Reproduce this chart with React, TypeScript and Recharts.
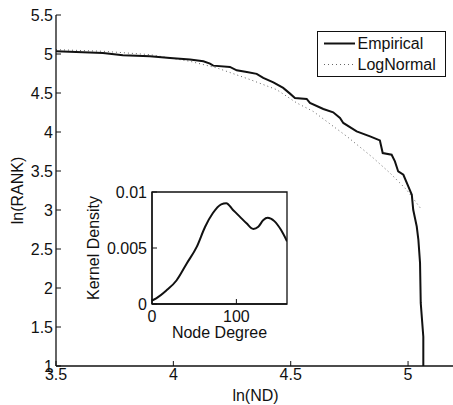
import { LineChart, Line, XAxis, YAxis, ReferenceArea } from 'recharts'

const FONT = '"Liberation Sans", Arial, Helvetica, sans-serif'
const INK = '#111'

// main plot: ln(ND) vs ln(RANK)
const X_TICKS = [3.5, 4, 4.5, 5]
const Y_TICKS = [1, 1.5, 2, 2.5, 3, 3.5, 4, 4.5, 5, 5.5]

const empiricalLnND = [
  3.5, 3.7, 3.785, 3.9, 3.986, 4.071, 4.128, 4.156, 4.17, 4.241, 4.27, 4.313,
  4.355, 4.383, 4.426, 4.468, 4.497, 4.518, 4.568, 4.582, 4.639, 4.681, 4.71,
  4.724, 4.781, 4.838, 4.88, 4.892, 4.93, 4.944, 4.958, 4.98, 5.001, 5.016,
  5.022, 5.037, 5.044, 5.051, 5.054, 5.065, 5.065,
]
const empiricalLnRank = [
  5.035, 5.014, 4.985, 4.971, 4.95, 4.928, 4.906, 4.877, 4.851, 4.834, 4.791,
  4.77, 4.745, 4.693, 4.637, 4.565, 4.492, 4.437, 4.424, 4.372, 4.295, 4.252,
  4.18, 4.116, 4.008, 3.944, 3.892, 3.73, 3.709, 3.623, 3.494, 3.452, 3.302,
  3.195, 3.003, 2.788, 2.617, 2.322, 1.809, 1.376, 1.0,
]

const lognormalLnND = [
  3.5, 3.7, 3.9, 4.071, 4.185, 4.327, 4.44, 4.526, 4.596, 4.739, 4.809, 4.852,
  4.923, 4.994, 5.058,
]
const lognormalLnRank = [
  5.056, 5.035, 4.992, 4.906, 4.822, 4.672, 4.543, 4.372, 4.264, 3.944, 3.773,
  3.666, 3.474, 3.259, 3.003,
]

// inset: kernel density of node degree
const INSET_X_TICKS = [0, 100]
const INSET_Y_TICKS = [0, 0.005, 0.01]
const nodeDegree = [0, 5, 17, 29, 41, 53, 63, 72, 82, 88, 96, 104, 112, 120, 126, 132, 137, 145, 153, 160]
const kernelDensity = [
  0.0003, 0.0005, 0.0012, 0.0021, 0.0036, 0.0051, 0.0069, 0.0081, 0.0089,
  0.009, 0.0084, 0.0078, 0.0072, 0.0067, 0.0069, 0.0075, 0.0077, 0.0074,
  0.0066, 0.0056,
]

const SERIES = [
  { name: 'Empirical', color: INK, width: 2, dash: undefined as string | undefined },
  { name: 'LogNormal', color: '#666', width: 1, dash: '1 3' },
]

const empirical = empiricalLnND.map((x, i) => ({ x, y: empiricalLnRank[i] }))
const lognormal = lognormalLnND.map((x, i) => ({ x, y: lognormalLnRank[i] }))
const density = nodeDegree.map((x, i) => ({ x, y: kernelDensity[i] }))

const TICK_LEN = 5
const textStyle = { fontFamily: FONT, fontSize: 16, fill: INK }

function BottomTick({ x, y, payload, gap = 3 }: any) {
  return (
    <g>
      <line x1={x} x2={x} y1={y} y2={y - TICK_LEN} stroke={INK} />
      <text x={x} y={y + gap} dy="0.71em" textAnchor="middle" style={textStyle}>
        {String(payload.value)}
      </text>
    </g>
  )
}

function TopTick({ x, y }: any) {
  return <line x1={x} x2={x} y1={y} y2={y + TICK_LEN} stroke={INK} />
}

function LeftTick({ x, y, payload, gap = 3 }: any) {
  return (
    <g>
      <line x1={x} x2={x + TICK_LEN} y1={y} y2={y} stroke={INK} />
      <text x={x - gap} y={y} dy="0.355em" textAnchor="end" style={textStyle}>
        {String(payload.value)}
      </text>
    </g>
  )
}

function RightTick({ x, y }: any) {
  return <line x1={x} x2={x - TICK_LEN} y1={y} y2={y} stroke={INK} />
}

function LegendBox() {
  return (
    <div
      style={{
        position: 'absolute',
        left: 317,
        top: 31,
        boxSizing: 'border-box',
        width: 129,
        height: 46,
        border: `1.5px solid ${INK}`,
        background: '#fff',
        fontFamily: FONT,
        fontSize: 16,
        color: INK,
      }}
    >
      {SERIES.map((s, i) => (
        <div
          key={s.name}
          style={{ position: 'absolute', left: 0, top: 1 + i * 21, height: 21, width: 126 }}
        >
          <svg width={31} height={21} style={{ position: 'absolute', left: 5.5, top: 0 }}>
            <line
              x1={0}
              x2={31}
              y1={10.5}
              y2={10.5}
              stroke={s.color}
              strokeWidth={s.width}
              strokeDasharray={s.dash}
            />
          </svg>
          <span style={{ position: 'absolute', left: 39.5, top: 0, lineHeight: '21px' }}>
            {s.name}
          </span>
        </div>
      ))}
    </div>
  )
}

function Inset() {
  return (
    <LineChart width={222} height={165} margin={{ top: 12, right: 5, bottom: 0, left: 0 }}>
      <XAxis
        dataKey="x"
        type="number"
        domain={[0, 160]}
        allowDataOverflow
        ticks={INSET_X_TICKS}
        height={41}
        stroke={INK}
        strokeWidth={1.3}
        tickSize={0}
        tickMargin={0}
        tick={<BottomTick gap={7} />}
        interval={0}
        label={{ value: 'Node Degree', position: 'insideBottom', offset: 7, style: textStyle }}
      />
      <XAxis
        xAxisId="top"
        orientation="top"
        type="number"
        domain={[0, 160]}
        allowDataOverflow
        ticks={INSET_X_TICKS}
        height={0}
        stroke={INK}
        strokeWidth={1.3}
        tickSize={0}
        tick={<TopTick />}
        interval={0}
      />
      <YAxis
        type="number"
        domain={[0, 0.01]}
        allowDataOverflow
        ticks={INSET_Y_TICKS}
        width={82}
        stroke={INK}
        strokeWidth={1.3}
        tickSize={0}
        tickMargin={0}
        tick={<LeftTick gap={5} />}
        interval={0}
        label={{
          value: 'Kernel Density',
          angle: -90,
          position: 'insideLeft',
          offset: 23,
          style: { ...textStyle, textAnchor: 'middle' },
        }}
      />
      <YAxis
        yAxisId="right"
        orientation="right"
        type="number"
        domain={[0, 0.01]}
        allowDataOverflow
        ticks={INSET_Y_TICKS}
        width={0}
        stroke={INK}
        strokeWidth={1.3}
        tickSize={0}
        tick={<RightTick />}
        interval={0}
      />
      <ReferenceArea
        x1={0}
        x2={160}
        y1={0}
        y2={0.01}
        fill="none"
        stroke={INK}
        strokeWidth={1.3}
        ifOverflow="visible"
      />
      <Line
        data={density}
        dataKey="y"
        type="monotone"
        stroke={INK}
        strokeWidth={2}
        dot={false}
        isAnimationActive={false}
      />
    </LineChart>
  )
}

export default function App() {
  return (
    <div
      style={{
        position: 'absolute',
        left: 0,
        top: 0,
        width: 453,
        height: 405,
        overflow: 'hidden',
        background: '#fff',
      }}
    >
      <LineChart width={460} height={405} margin={{ top: 15, right: 5, bottom: 0, left: 0 }}>
        <XAxis
          dataKey="x"
          type="number"
          domain={[3.5, 5.2]}
          allowDataOverflow
          ticks={X_TICKS}
          height={39}
          stroke={INK}
          strokeWidth={1.3}
          tickSize={0}
          tickMargin={0}
          tick={<BottomTick gap={3} />}
          interval={0}
          label={{ value: 'ln(ND)', position: 'insideBottom', offset: 4, style: textStyle }}
        />
        <XAxis
          xAxisId="top"
          orientation="top"
          type="number"
          domain={[3.5, 5.2]}
          allowDataOverflow
          ticks={X_TICKS}
          height={0}
          stroke={INK}
          strokeWidth={1.3}
          tickSize={0}
          tick={<TopTick />}
          interval={0}
        />
        <YAxis
          type="number"
          domain={[1, 5.5]}
          allowDataOverflow
          ticks={Y_TICKS}
          width={56}
          stroke={INK}
          strokeWidth={1.3}
          tickSize={0}
          tickMargin={0}
          tick={<LeftTick gap={3} />}
          interval={0}
          label={{
            value: 'ln(RANK)',
            angle: -90,
            position: 'insideLeft',
            offset: 17,
            style: { ...textStyle, textAnchor: 'middle' },
          }}
        />
        <YAxis
          yAxisId="right"
          orientation="right"
          type="number"
          domain={[1, 5.5]}
          allowDataOverflow
          ticks={Y_TICKS}
          width={0}
          stroke={INK}
          strokeWidth={1.3}
          tickSize={0}
          tick={<RightTick />}
          interval={0}
        />
        <Line
          data={lognormal}
          dataKey="y"
          name={SERIES[1].name}
          type="linear"
          stroke={SERIES[1].color}
          strokeWidth={SERIES[1].width}
          strokeDasharray={SERIES[1].dash}
          dot={false}
          isAnimationActive={false}
        />
        <Line
          data={empirical}
          dataKey="y"
          name={SERIES[0].name}
          type="linear"
          stroke={SERIES[0].color}
          strokeWidth={SERIES[0].width}
          dot={false}
          isAnimationActive={false}
        />
      </LineChart>
      <LegendBox />
      <div style={{ position: 'absolute', left: 70, top: 180 }}>
        <Inset />
      </div>
    </div>
  )
}
